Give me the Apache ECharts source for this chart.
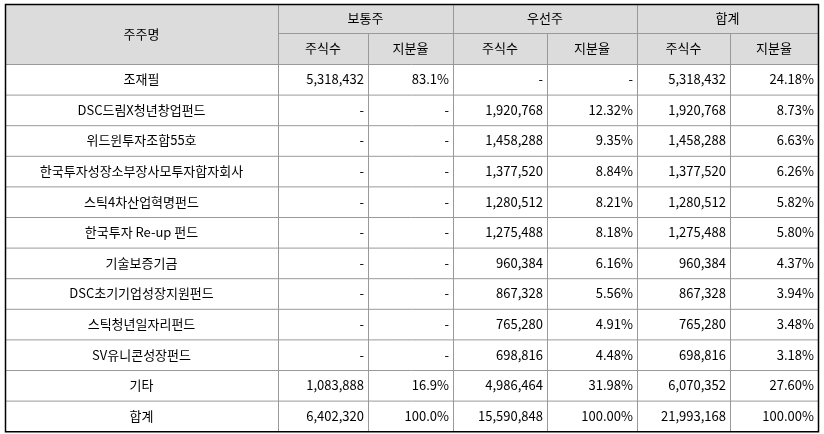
<!DOCTYPE html>
<html><head><meta charset="utf-8">
<script src="https://cdn.jsdelivr.net/npm/echarts@6/dist/echarts.min.js"></script>
<style>html,body{margin:0;padding:0;background:#fff}#c{width:824px;height:434px}</style>
</head><body><div id="c"></div>
<script>
var groups = ['보통주', '우선주', '합계'];
var subHeads = ['주식수', '지분율'];
var names = ['조재필', 'DSC드림X청년창업펀드', '위드윈투자조합55호', '한국투자성장소부장사모투자합자회사', '스틱4차산업혁명펀드', '한국투자 Re-up 펀드', '기술보증기금', 'DSC초기기업성장지원펀드', '스틱청년일자리펀드', 'SV유니콘성장펀드', '기타', '합계'];
var commonShares = ['5,318,432', '-', '-', '-', '-', '-', '-', '-', '-', '-', '1,083,888', '6,402,320'];
var commonPct = ['83.1%', '-', '-', '-', '-', '-', '-', '-', '-', '-', '16.9%', '100.0%'];
var prefShares = ['-', '1,920,768', '1,458,288', '1,377,520', '1,280,512', '1,275,488', '960,384', '867,328', '765,280', '698,816', '4,986,464', '15,590,848'];
var prefPct = ['-', '12.32%', '9.35%', '8.84%', '8.21%', '8.18%', '6.16%', '5.56%', '4.91%', '4.48%', '31.98%', '100.00%'];
var totalShares = ['5,318,432', '1,920,768', '1,458,288', '1,377,520', '1,280,512', '1,275,488', '960,384', '867,328', '765,280', '698,816', '6,070,352', '21,993,168'];
var totalPct = ['24.18%', '8.73%', '6.63%', '6.26%', '5.82%', '5.80%', '4.37%', '3.94%', '3.48%', '3.18%', '27.60%', '100.00%'];

var chart = echarts.init(document.getElementById('c'));
var colX = [5, 278, 368, 453, 547, 637, 730, 818];
var top0 = 4, h1 = 33, h2 = 64, rowH = 30.6;
var font = '13px "Noto Sans CJK KR", sans-serif';
var els = [];
var lineC = '#999';

els.push({type: 'rect', shape: {x: colX[0], y: top0, width: colX[7] - colX[0], height: h2 - top0}, style: {fill: '#dcdcdc'}});
function txt(x, y, s, align) {
  els.push({type: 'text', x: x, y: y, style: {text: s, font: font, fill: '#000', align: align || 'center', verticalAlign: 'middle'}});
}
function ln(x1, y1, x2, y2, c) {
  els.push({type: 'line', shape: {x1: x1, y1: y1, x2: x2, y2: y2}, style: {stroke: c || lineC, lineWidth: 1}});
}
txt((colX[0] + colX[1]) / 2, (top0 + h2) / 2, '주주명');
groups.forEach(function (g, i) {
  var a = colX[1 + i * 2], b = colX[3 + i * 2];
  txt((a + b) / 2, (top0 + h1) / 2, g);
  subHeads.forEach(function (s, j) {
    txt((colX[1 + i * 2 + j] + colX[2 + i * 2 + j]) / 2, (h1 + h2) / 2, s);
  });
});
var cols = [commonShares, commonPct, prefShares, prefPct, totalShares, totalPct];
names.forEach(function (n, r) {
  var cy = h2 + rowH * (r + 0.5);
  txt((colX[0] + colX[1]) / 2, cy, n);
  cols.forEach(function (c, k) {
    txt(colX[k + 2] - 4, cy, c[r], 'right');
  });
  if (r < names.length - 1) ln(colX[0], h2 + rowH * (r + 1) + 0.5, colX[7], h2 + rowH * (r + 1) + 0.5);
});
var bottom = h2 + rowH * names.length;
ln(colX[1], h1 + 0.5, colX[7], h1 + 0.5);
ln(colX[0], h2 + 0.5, colX[7], h2 + 0.5);
for (var k = 1; k < 7; k++) {
  var y0 = (k % 2 === 0) ? h1 : top0;
  ln(colX[k] + 0.5, y0, colX[k] + 0.5, bottom);
}
els.push({type: 'rect', shape: {x: colX[0] + 0.5, y: top0 + 0.5, width: colX[7] - colX[0], height: bottom - top0}, style: {fill: 'none', stroke: '#000', lineWidth: 1.5}});

chart.setOption({animation: false, graphic: {elements: els}});
</script></body></html>
